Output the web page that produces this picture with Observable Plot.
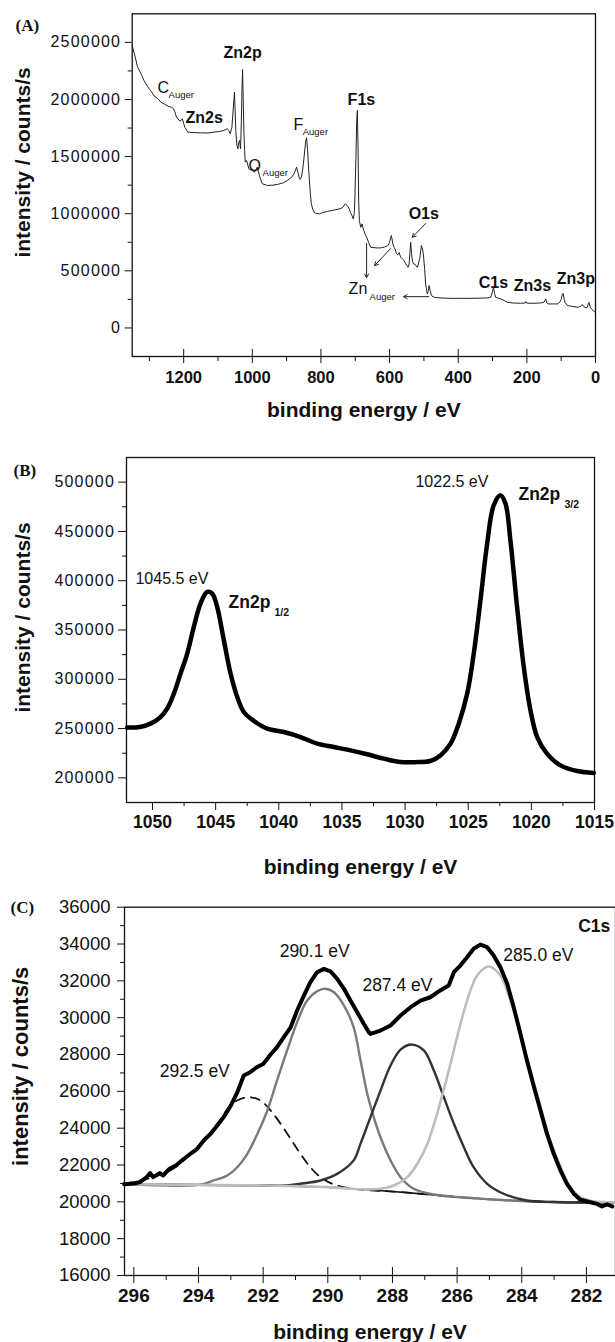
<!DOCTYPE html>
<html><head><meta charset="utf-8">
<script src="https://cdn.jsdelivr.net/npm/d3@7"></script>
<script src="https://cdn.jsdelivr.net/npm/@observablehq/plot@0.6"></script>
<style>
html,body{margin:0;padding:0;background:#fff;}
#chart{position:relative;width:615px;height:1342px;overflow:hidden;background:#fff;}
#chart svg{position:absolute;left:0;display:block;}
</style></head><body><div id="chart"></div>
<script>
// ---------- Panel A: survey spectrum [binding energy eV, intensity counts/s] ----------
const surveySpectrum = [
[1350,2470000],[1341,2371000],[1335,2290000],[1322,2210000],[1316,2167000],[1302,2100000],[1297,2080000],
[1283,2021000],[1277,2012000],[1264,1970000],[1258,1963000],[1245,1940000],[1236,1933000],[1230,1920000],
[1226,1895000],[1221,1846000],[1211,1810000],[1207,1818000],[1204,1831000],[1200,1790000],[1197,1758000],
[1188,1714000],[1170,1710000],[1151,1708000],[1130,1706000],[1112,1714000],[1095,1720000],[1083,1729000],
[1077,1738000],[1073,1745000],[1069,1729000],[1064.3,1700000],[1061,1740000],[1059.6,1752000],[1056,1900000],
[1052,2065000],[1050,1900000],[1048,1720000],[1045,1600000],[1042,1568000],[1039.5,1620000],[1037.2,1641000],
[1035.5,1600000],[1034.3,1568000],[1032,1800000],[1030,2100000],[1028.4,2261000],[1026.5,2000000],
[1024.6,1729000],[1022.5,1560000],[1020.6,1451000],[1016.8,1466000],[1010,1393000],[1000,1378000],
[993.4,1364000],[985.6,1407000],[978,1320000],[971,1262000],[956,1247000],[940,1250000],[927,1256000],
[910,1270000],[898,1291000],[890,1310000],[883.5,1326000],[878,1350000],[874,1385000],[871,1407000],
[867,1360000],[863,1310000],[861,1300000],[857,1320000],[853,1390000],[849,1500000],[845,1620000],
[842,1665000],[839,1560000],[835,1350000],[831,1180000],[828,1087000],[824,1040000],[820,1013000],
[815,1004000],[805,998000],[795,1010000],[781,1020000],[765,1030000],[750,1040000],[742,1045000],
[735,1060000],[729,1087000],[722,1065000],[717,1040000],[714,1010000],[709,980000],[706,955000],
[703,1000000],[701,1150000],[698,1500000],[696,1800000],[694,1904000],[692,1600000],[690,1100000],
[688,940000],[684,881000],[680,911000],[677,870000],[675,853000],[671,820000],[665,780000],[660,740000],
[655,706000],[645,703000],[635,700000],[626,701000],[615,708000],[605,721000],[600,750000],[597,790000],
[595,809000],[593,780000],[590,730000],[587,706000],[584,690000],[580,650000],[576,640000],[572,660000],
[568,620000],[563,605000],[558,590000],[553,561000],[549,545000],[546,531000],[543,560000],[541,650000],
[538.6,750000],[536,650000],[533,580000],[531,561000],[527,560000],[523,545000],[519,531000],[516,560000],
[513,600000],[511.5,619000],[509,680000],[507.5,721000],[505,700000],[501.6,648000],[498,520000],
[495,385000],[492,330000],[490,298000],[487,330000],[485,371000],[482,330000],[478,283000],[470,268000],
[450,262000],[422,259000],[400,259000],[373,259000],[345,260000],[315,263000],[305,270000],[300,320000],
[297.5,356000],[294,300000],[291,268000],[285,262000],[276,254000],[266,240000],[256.7,224000],
[240,218000],[218,216000],[205,218000],[203,230000],[200,217000],[179,216000],[165,218000],[160,219000],
[150,225000],[145,254000],[142,220000],[138,210000],[120,210000],[111,210000],[104,225000],[100,250000],
[97,290000],[94.6,303000],[91,250000],[88.8,224000],[82,197000],[70,190000],[60,185000],[53,181000],
[45,185000],[40,200000],[38,204000],[35,190000],[28,175000],[24,180000],[21,210000],[19,224000],
[16,190000],[12,166000],[6,150000],[1,137000]
];
const surveyBoldLabels = [
  {t:"Zn2p", be:1083.8, i:2360000},{t:"Zn2s", be:1194.6, i:1790000},{t:"F1s", be:722.3, i:1948000},
  {t:"O1s", be:544.5, i:958000},{t:"C1s", be:340.4, i:353000},{t:"Zn3s", be:238.3, i:327000},
  {t:"Zn3p", be:113, i:388000}
];
const surveyPlainLabels = [
  {t:"C", be:1276, i:2053000},{t:"O", be:1011, i:1370000},{t:"F", be:879.7, i:1729000},{t:"Zn", be:719.4, i:300600}
];
const surveySubLabels = [
  {t:"Auger", be:1244, i:2009000},{t:"Auger", be:970, i:1326000},{t:"Auger", be:853.2, i:1685000},{t:"Auger", be:658.2, i:248000}
];
const surveyArrows = [
  {be1:495, i1:914000, be2:533.7, i2:794000},
  {be1:667, i1:739000, be2:667, i2:441000},
  {be1:597, i1:695000, be2:643.6, i2:546000},
  {be1:486, i1:274000, be2:559, i2:274000}
];
const aYTicks = [0, 500000, 1000000, 1500000, 2000000, 2500000];
const aYMinor = [250000, 750000, 1250000, 1750000, 2250000];
const aXTicks = [0, 200, 400, 600, 800, 1000, 1200];
const aXMinor = [100, 300, 500, 700, 900, 1100, 1300];

// ---------- Panel B: Zn2p region ----------
const zn2pSpectrum = [
[1052.0,251000],[1051.0,251600],[1050.16,255000],[1049.37,261700],[1048.84,270200],[1048.31,285500],
[1047.78,305800],[1047.25,326100],[1046.73,353100],[1046.2,376800],[1045.67,388600],[1045.27,387000],
[1044.88,373400],[1044.35,339600],[1043.82,305800],[1043.29,282000],[1042.77,266800],[1041.97,257700],
[1040.92,250000],[1039.6,246500],[1038.28,241400],[1036.96,234700],[1035.64,231300],[1034.32,227900],
[1033.0,223900],[1031.69,219500],[1030.36,216000],[1029.04,216000],[1028.0,217100],[1027.2,222800],
[1026.4,234700],[1025.75,255000],[1025.08,285500],[1024.56,326100],[1024.03,380200],[1023.5,437800],
[1022.98,476600],[1022.45,486800],[1022.05,478300],[1021.66,441100],[1021.13,373400],[1020.6,312500],
[1020.07,268500],[1019.54,241400],[1018.76,224600],[1017.7,212700],[1016.38,206900],[1015.06,204900]
];
const zn2pPlainLabels = [{t:"1045.5 eV", be:1051.35, i:396400},{t:"1022.5 eV", be:1029.18, i:494900}];
const zn2pBoldLabels = [{t:"Zn2p", be:1043.98, i:372100},{t:"Zn2p", be:1021.02, i:481700}];
const zn2pSubLabels = [{t:"1/2", be:1040.34, i:364000},{t:"3/2", be:1017.38, i:473600}];
const bYTicks = [200000, 250000, 300000, 350000, 400000, 450000, 500000];
const bYMinor = [225000, 275000, 325000, 375000, 425000, 475000];
const bXTicks = [1015, 1020, 1025, 1030, 1035, 1040, 1045, 1050];
const bXMinor = [1017.5, 1022.5, 1027.5, 1032.5, 1037.5, 1042.5, 1047.5];

// ---------- Panel C: C1s region ----------
const c1sMeasured = [
[296.3,20950],[296.0,21000],[295.8,21080],[295.6,21340],[295.5,21560],[295.4,21340],[295.2,21560],
[295.1,21430],[294.9,21790],[294.7,21970],[294.45,22340],[294.25,22610],[294.04,22880],[293.84,23330],
[293.63,23690],[293.42,24150],[293.22,24600],[293.0,25230],[292.8,25950],[292.6,26860],[292.4,27040],
[292.2,27310],[292.0,27490],[291.77,28000],[291.57,28400],[291.36,28940],[291.15,29480],[290.95,30390],
[290.74,31200],[290.54,31930],[290.33,32470],[290.12,32650],[289.92,32520],[289.71,32110],[289.5,31570],
[289.3,30930],[289.09,30300],[288.89,29670],[288.73,29210],[288.68,29120],[288.37,29300],[288.06,29575],
[287.75,30120],[287.44,30570],[287.13,30930],[286.83,31110],[286.52,31480],[286.26,31750],[286.1,32470],
[285.9,32830],[285.69,33280],[285.49,33740],[285.28,33970],[285.07,33830],[284.87,33380],[284.66,32740],
[284.45,31840],[284.25,30570],[284.04,29120],[283.84,27670],[283.62,26220],[283.42,24960],[283.22,23690],
[283.01,22610],[282.8,21700],[282.6,20980],[282.39,20440],[282.19,20110],[281.88,19980],[281.67,19890],
[281.52,19750],[281.36,19860],[281.2,19750]
];
const c1sBackground = [
[296.3,20960],[294,20920],[292,20890],[290,20800],[289,20680],[288,20560],[287,20420],[286,20260],
[285,20140],[284,20040],[283,19990],[282,19960],[281.1,19950]
];
const c1sPeak2925 = [
[296.3,20980],[295.6,21250],[294.87,21700],[294.35,22420],[293.84,23330],[293.42,24240],[293.01,25230],
[292.7,25590],[292.39,25680],[292.08,25500],[291.77,24960],[291.46,24240],[291.15,23420],[290.85,22610],
[290.54,21880],[290.23,21340],[289.81,20940],[289.2,20710],[288.68,20620],[288,20560],[287,20420],
[286,20260],[285,20140],[284,20040],[283,19990],[282,19960],[281.1,19950]
];
const c1sPeak2901 = [
[296.3,20960],[294,20920],[293.53,21160],[293.11,21430],[292.8,21880],[292.49,22610],[292.18,23690],
[291.87,24960],[291.57,26590],[291.26,28220],[290.95,29750],[290.64,30930],[290.33,31440],[290.07,31570],
[289.81,31380],[289.5,30660],[289.2,29480],[288.99,27700],[288.78,25870],[288.58,24600],[288.37,23510],
[288.06,22250],[287.75,21340],[287.34,20710],[286.72,20400],[286,20260],[285,20140],[284,20040],
[283,19990],[282,19960],[281.1,19950]
];
const c1sPeak2874 = [
[296.3,20960],[294,20920],[292,20890],[291.3,20890],[290.85,20980],[290.23,21160],[289.71,21520],
[289.2,22250],[288.99,23150],[288.68,24600],[288.37,26040],[288.06,27400],[287.75,28270],[287.39,28540],
[287.03,28220],[286.72,27130],[286.41,25680],[286.1,24240],[285.79,22970],[285.49,21880],[285.07,20980],
[284.56,20440],[283.84,20070],[283,19990],[282,19960],[281.1,19950]
];
const c1sPeak2850 = [
[296.3,20960],[294,20920],[292,20890],[290,20800],[289,20680],[288.37,20710],[287.96,20890],[287.54,21340],
[287.23,22070],[286.92,23150],[286.62,24780],[286.31,26770],[286.0,28940],[285.69,30930],[285.38,32290],
[285.02,32780],[284.66,32290],[284.35,30930],[284.04,29120],[283.73,27130],[283.42,25140],[283.12,23330],
[282.8,21880],[282.5,20800],[282.19,20250],[281.78,20030],[281.1,19960]
];
const c1sPlainLabels = [
  {t:"292.5 eV", be:295.2, i:26770},{t:"290.1 eV", be:291.49, i:33280},
  {t:"287.4 eV", be:288.93, i:31440},{t:"285.0 eV", be:284.57, i:33100}
];
const c1sBoldLabels = [{t:"C1s", be:281.26, i:34640}];
const cYTicks = [16000, 18000, 20000, 22000, 24000, 26000, 28000, 30000, 32000, 34000, 36000];
const cYMinor = [17000, 19000, 21000, 23000, 25000, 27000, 29000, 31000, 33000, 35000];
const cXTicks = [282, 284, 286, 288, 290, 292, 294, 296];
const cXMinor = [283, 285, 287, 289, 291, 293, 295];

// ---------- drawing ----------
const SANS = '"Liberation Sans", Arial, Helvetica, sans-serif';
const SERIF = '"Liberation Serif", "Times New Roman", Times, serif';
const INK = "#111";
const fmt = d => String(d);
const blank = () => "";
const yTitle = "intensity / counts/s";
const xTitle = "binding energy / eV";

// Panel A
const aH = 430, aM = {t: 13.3, b: 74, l: 131.7, r: 20};
const svgA = Plot.plot({
  width: 615, height: aH,
  marginTop: aM.t, marginBottom: aM.b, marginLeft: aM.l, marginRight: aM.r,
  style: {fontFamily: SANS, color: INK, background: "white"},
  x: {domain: [1350, 0], label: null},
  y: {domain: [-250000, 2750000], label: null},
  marks: [
    Plot.axisY(aYTicks, {tickSize: 7, tickPadding: 4, fontSize: 16, tickFormat: fmt, label: null, stroke: INK}),
    Plot.axisY(aYMinor, {tickSize: 4, tickFormat: blank, label: null, stroke: INK}),
    Plot.axisX(aXTicks, {tickSize: 7, tickPadding: 8, fontSize: 16.5, fontWeight: "bold", tickFormat: fmt, label: null, stroke: INK}),
    Plot.axisX(aXMinor, {tickSize: 5, tickFormat: blank, label: null, stroke: INK}),
    Plot.tickX(aXTicks, {x: d => d, insetTop: aH - aM.t - aM.b - 7, stroke: INK}),
    Plot.frame({stroke: INK, strokeWidth: 1.3}),
    Plot.line(surveySpectrum, {x: d => d[0], y: d => d[1], stroke: "#222", strokeWidth: 1}),
    Plot.arrow(surveyArrows, {x1: "be1", y1: "i1", x2: "be2", y2: "i2", stroke: "#222", strokeWidth: 1, headLength: 6}),
    Plot.text(surveyBoldLabels, {x: "be", y: "i", text: "t", textAnchor: "start", lineAnchor: "bottom", fontSize: 16, fontWeight: "bold", fill: INK}),
    Plot.text(surveyPlainLabels, {x: "be", y: "i", text: "t", textAnchor: "start", lineAnchor: "bottom", fontSize: 16, fill: INK}),
    Plot.text(surveySubLabels, {x: "be", y: "i", text: "t", textAnchor: "start", lineAnchor: "bottom", fontSize: 9.5, fill: INK}),
    Plot.text([yTitle], {frameAnchor: "left", rotate: -90, dx: -108.7, dy: -22.7, fontSize: 21, fontWeight: "bold", textAnchor: "middle", lineAnchor: "middle", fill: INK}),
    Plot.text([xTitle], {frameAnchor: "bottom", dy: 60, fontSize: 21, fontWeight: "bold", textAnchor: "middle", lineAnchor: "bottom", fill: INK}),
    Plot.text(["(A)"], {frameAnchor: "top-left", dx: -116.7, dy: 16.7, textAnchor: "start", lineAnchor: "bottom", fontFamily: SERIF, fontWeight: "bold", fontSize: 17, fill: INK})
  ]
});

// Panel B
const bTop = 430, bH = 450, bM = {t: 27, b: 78, l: 126, r: 21};
const svgB = Plot.plot({
  width: 615, height: bH,
  marginTop: bM.t, marginBottom: bM.b, marginLeft: bM.l, marginRight: bM.r,
  style: {fontFamily: SANS, color: INK, background: "white"},
  x: {domain: [1052.06, 1015], label: null},
  y: {domain: [175000, 525000], label: null},
  marks: [
    Plot.axisY(bYTicks, {tickSize: 8, tickPadding: 3.5, fontSize: 16, tickFormat: fmt, label: null, stroke: INK}),
    Plot.axisY(bYMinor, {tickSize: 4, tickFormat: blank, label: null, stroke: INK}),
    Plot.axisX(bXTicks, {tickSize: 8, tickPadding: 5, fontSize: 17.5, fontWeight: "bold", tickFormat: fmt, label: null, stroke: INK}),
    Plot.axisX(bXMinor, {tickSize: 4, tickFormat: blank, label: null, stroke: INK}),
    Plot.frame({stroke: INK, strokeWidth: 1.3}),
    Plot.line(zn2pSpectrum, {x: d => d[0], y: d => d[1], stroke: "#000", strokeWidth: 4.5, curve: "catmull-rom", strokeLinejoin: "round"}),
    Plot.text(zn2pPlainLabels, {x: "be", y: "i", text: "t", textAnchor: "start", lineAnchor: "bottom", fontSize: 16, fill: INK}),
    Plot.text(zn2pBoldLabels, {x: "be", y: "i", text: "t", textAnchor: "start", lineAnchor: "bottom", fontSize: 17.5, fontWeight: "bold", fill: INK}),
    Plot.text(zn2pSubLabels, {x: "be", y: "i", text: "t", textAnchor: "start", lineAnchor: "bottom", fontSize: 10.5, fontWeight: "bold", fill: INK}),
    Plot.text([yTitle], {frameAnchor: "left", rotate: -90, dx: -103, dy: -12.5, fontSize: 21, fontWeight: "bold", textAnchor: "middle", lineAnchor: "middle", fill: INK}),
    Plot.text([xTitle], {frameAnchor: "bottom", dy: 71, fontSize: 21, fontWeight: "bold", textAnchor: "middle", lineAnchor: "bottom", fill: INK}),
    Plot.text(["(B)"], {frameAnchor: "top-left", dx: -113, dy: 18, textAnchor: "start", lineAnchor: "bottom", fontFamily: SERIF, fontWeight: "bold", fontSize: 17, fill: INK})
  ]
});

// Panel C
const cTop = 880, cH = 462, cM = {t: 26.7, b: 67, l: 124, r: 0};
const svgC = Plot.plot({
  width: 615, height: cH,
  marginTop: cM.t, marginBottom: cM.b, marginLeft: cM.l, marginRight: cM.r,
  style: {fontFamily: SANS, color: INK, background: "white"},
  x: {domain: [296.29, 281.1], label: null},
  y: {domain: [16000, 36000], label: null},
  marks: [
    Plot.axisY(cYTicks, {tickSize: 7, tickPadding: 7, fontSize: 18.5, tickFormat: fmt, label: null, stroke: INK}),
    Plot.axisY(cYMinor, {tickSize: 4, tickFormat: blank, label: null, stroke: INK}),
    Plot.axisX(cXTicks, {tickSize: 8, tickPadding: 5, fontSize: 19, fontWeight: "bold", tickFormat: fmt, label: null, stroke: INK}),
    Plot.axisX(cXMinor, {tickSize: 5, tickFormat: blank, label: null, stroke: INK}),
    Plot.tickX(cXTicks, {x: d => d, insetTop: cH - cM.t - cM.b - 8, stroke: INK}),
    Plot.frame({stroke: INK, strokeWidth: 1.3}),
    Plot.line(c1sBackground, {x: d => d[0], y: d => d[1], stroke: "#111", strokeWidth: 1.6}),
    Plot.line(c1sPeak2925, {x: d => d[0], y: d => d[1], stroke: "#111", strokeWidth: 1.8, strokeDasharray: "9,7", curve: "catmull-rom"}),
    Plot.line(c1sPeak2901, {x: d => d[0], y: d => d[1], stroke: "#7a7a7a", strokeWidth: 2.4, curve: "catmull-rom"}),
    Plot.line(c1sPeak2874, {x: d => d[0], y: d => d[1], stroke: "#333", strokeWidth: 2.4, curve: "catmull-rom"}),
    Plot.line(c1sPeak2850, {x: d => d[0], y: d => d[1], stroke: "#bdbdbd", strokeWidth: 2.6, curve: "catmull-rom"}),
    Plot.line(c1sMeasured, {x: d => d[0], y: d => d[1], stroke: "#000", strokeWidth: 4, strokeLinejoin: "round"}),
    Plot.text(c1sPlainLabels, {x: "be", y: "i", text: "t", textAnchor: "start", lineAnchor: "bottom", fontSize: 17.5, fill: INK}),
    Plot.text(c1sBoldLabels, {x: "be", y: "i", text: "t", textAnchor: "end", lineAnchor: "bottom", fontSize: 17.5, fontWeight: "bold", fill: INK}),
    Plot.text([yTitle], {frameAnchor: "left", rotate: -90, dx: -104, dy: -25, fontSize: 22, fontWeight: "bold", textAnchor: "middle", lineAnchor: "middle", fill: INK}),
    Plot.text([xTitle], {frameAnchor: "bottom", dy: 63, fontSize: 21, fontWeight: "bold", textAnchor: "middle", lineAnchor: "bottom", fill: INK}),
    Plot.text(["(C)"], {frameAnchor: "top-left", dx: -114, dy: 5.3, textAnchor: "start", lineAnchor: "bottom", fontFamily: SERIF, fontWeight: "bold", fontSize: 17, fill: INK})
  ]
});

const root = document.getElementById("chart");
[[svgA, 0], [svgB, bTop], [svgC, cTop]].forEach(([svg, top]) => {
  svg.style.top = top + "px";
  root.appendChild(svg);
});
// slightly wider digit spacing for the y tick labels of panels A and B, as in the original
[svgA, svgB].forEach(svg => {
  d3.select(svg).selectAll('g[aria-label="y-axis tick label"] text').style("letter-spacing", "1.2px");
});
</script></body></html>
